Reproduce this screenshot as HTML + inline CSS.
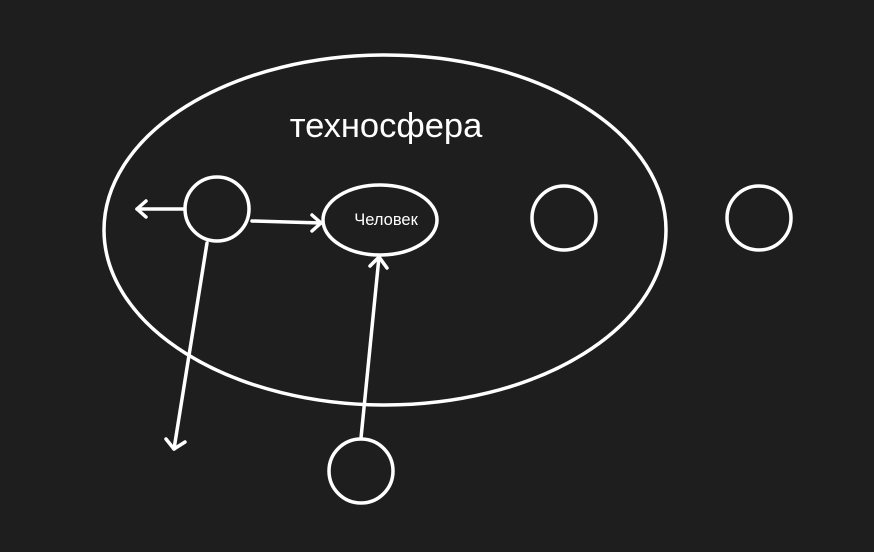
<!DOCTYPE html>
<html>
<head>
<meta charset="utf-8">
<style>
html,body{margin:0;padding:0;background:#1e1e1e;}
svg{display:block;}
text{font-family:"Liberation Sans","DejaVu Sans",sans-serif;fill:#fff;}
</style>
</head>
<body>
<svg width="874" height="552" viewBox="0 0 874 552">
  <rect width="874" height="552" fill="#1e1e1e"/>
  <g fill="none" stroke="#fff" stroke-width="3.5" stroke-linecap="round" stroke-linejoin="round">
    <ellipse cx="385" cy="230" rx="281" ry="175"/>
    <circle cx="217" cy="209" r="32"/>
    <ellipse cx="380" cy="220" rx="57" ry="35"/>
    <circle cx="564" cy="218" r="32"/>
    <circle cx="759" cy="218" r="32"/>
    <circle cx="361" cy="471" r="32"/>
    <g>
      <line x1="183" y1="209" x2="137" y2="209"/>
      <polyline points="146,201 137,209 146,217"/>
    </g>
    <g>
      <line x1="252" y1="221" x2="321" y2="223"/>
      <polyline points="312,215 321,223 312,231"/>
    </g>
    <g>
      <line x1="207" y1="243" x2="174" y2="449"/>
      <polyline points="166,439 174,449 185,442"/>
    </g>
    <g>
      <line x1="361" y1="438" x2="379" y2="257"/>
      <polyline points="370,266 379,257 387,268"/>
    </g>
  </g>
  <text x="386" y="137" font-size="34.5" text-anchor="middle">техносфера</text>
  <text x="386" y="225" font-size="16.5" text-anchor="middle">Человек</text>
</svg>
</body>
</html>
